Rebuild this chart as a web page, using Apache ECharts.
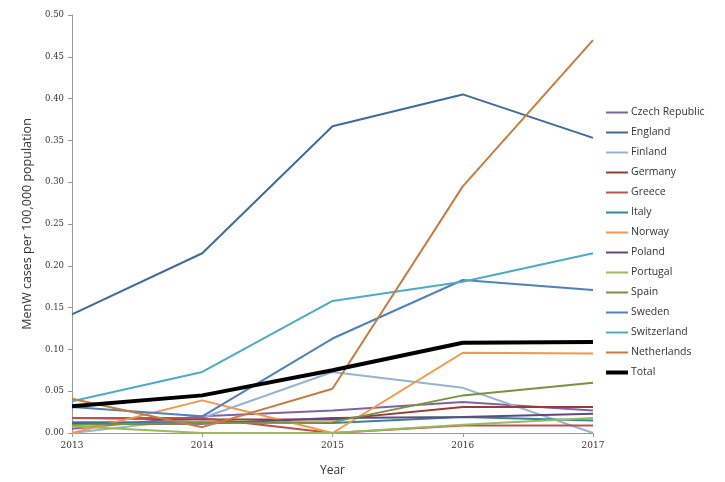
<!DOCTYPE html>
<html><head><meta charset="utf-8">
<script src="https://cdn.jsdelivr.net/npm/echarts@6/dist/echarts.min.js"></script>
<style>html,body{margin:0;padding:0;background:#fff}#c{width:725px;height:482px}</style>
</head><body><div id="c"></div>
<script>
var years = ['2013','2014','2015','2016','2017'];
var seriesNames = ['Czech Republic','England','Finland','Germany','Greece','Italy','Norway','Poland','Portugal','Spain','Sweden','Switzerland','Netherlands','Total'];
var czech       = [0.005, 0.020, 0.027, 0.037, 0.027];
var england     = [0.142, 0.215, 0.367, 0.405, 0.353];
var finland     = [0.000, 0.018, 0.073, 0.054, 0.000];
var germany     = [0.018, 0.016, 0.016, 0.031, 0.031];
var greece      = [0.018, 0.018, 0.000, 0.009, 0.009];
var italy       = [0.013, 0.013, 0.012, 0.019, 0.015];
var norway      = [0.000, 0.039, 0.000, 0.096, 0.095];
var poland      = [0.011, 0.011, 0.018, 0.019, 0.023];
var portugal    = [0.008, 0.000, 0.000, 0.010, 0.018];
var spain       = [0.010, 0.012, 0.013, 0.045, 0.060];
var sweden      = [0.031, 0.020, 0.113, 0.183, 0.171];
var switzerland = [0.038, 0.073, 0.158, 0.181, 0.215];
var netherlands = [0.041, 0.007, 0.053, 0.295, 0.470];
var total       = [0.032, 0.045, 0.075, 0.108, 0.109];
var yTicks = [0, 0.05, 0.10, 0.15, 0.20, 0.25, 0.30, 0.35, 0.40, 0.45, 0.50];

var dataList = [czech, england, finland, germany, greece, italy, norway, poland, portugal, spain, sweden, switzerland, netherlands, total];
var colors = ['#8064a2','#3e6b9a','#95b3d7','#9a3b38','#c0504d','#31859c','#f79646','#604a7b','#9bbb59','#77933c','#4f81bd','#4bacc6','#c77c3e','#000000'];

var series = seriesNames.map(function(n, i){
  var isTotal = n === 'Total';
  return {
    name: n, type: 'line', data: dataList[i], symbol: 'none', smooth: false,
    z: isTotal ? 10 : 2,
    lineStyle: {color: colors[i], width: isTotal ? 4 : 2},
    itemStyle: {color: colors[i]}
  };
});

var chart = echarts.init(document.getElementById('c'), null, {renderer:'canvas'});
chart.setOption({
  animation: false,
  color: colors,
  textStyle: {fontFamily: 'Open Sans, sans-serif'},
  grid: {left: 72, right: 132, top: 15, bottom: 44, containLabel: false},
  legend: {
    orient: 'vertical', left: 601, top: 102, itemWidth: 22, itemHeight: 12, itemGap: 9,
    data: seriesNames.map(function(n, i){
      return {name: n, icon: 'path://M0,0 L22,0 L22,' + (n === 'Total' ? 4 : 2) + ' L0,' + (n === 'Total' ? 4 : 2) + ' Z'};
    }),
    textStyle: {fontSize: 10.5, color: '#333', fontFamily: 'Open Sans, sans-serif', padding: [0,0,0,-2]}
  },
  xAxis: {
    type: 'category', data: years, boundaryGap: false,
    name: 'Year', nameLocation: 'middle', nameGap: 32,
    nameTextStyle: {fontSize: 12, color: '#333'},
    axisLine: {lineStyle: {color: '#999'}},
    axisTick: {show: true, alignWithLabel: true, length: 4, lineStyle: {color: '#999'}},
    axisLabel: {fontSize: 9, color: '#333', fontFamily: 'DejaVu Serif, serif', margin: 8}
  },
  yAxis: {
    type: 'value', min: 0, max: 0.5, interval: 0.05,
    name: 'MenW cases per 100,000 population', nameLocation: 'middle', nameGap: 36,
    nameTextStyle: {fontSize: 12.5, color: '#333'},
    axisLine: {show: true, lineStyle: {color: '#999'}},
    axisTick: {show: true, length: 4, lineStyle: {color: '#999'}},
    splitLine: {show: false},
    axisLabel: {fontSize: 8.5, color: '#333', fontFamily: 'DejaVu Serif, serif', margin: 8,
      formatter: function(v){ return v.toFixed(2); }}
  },
  series: series
});
</script>
</body></html>
